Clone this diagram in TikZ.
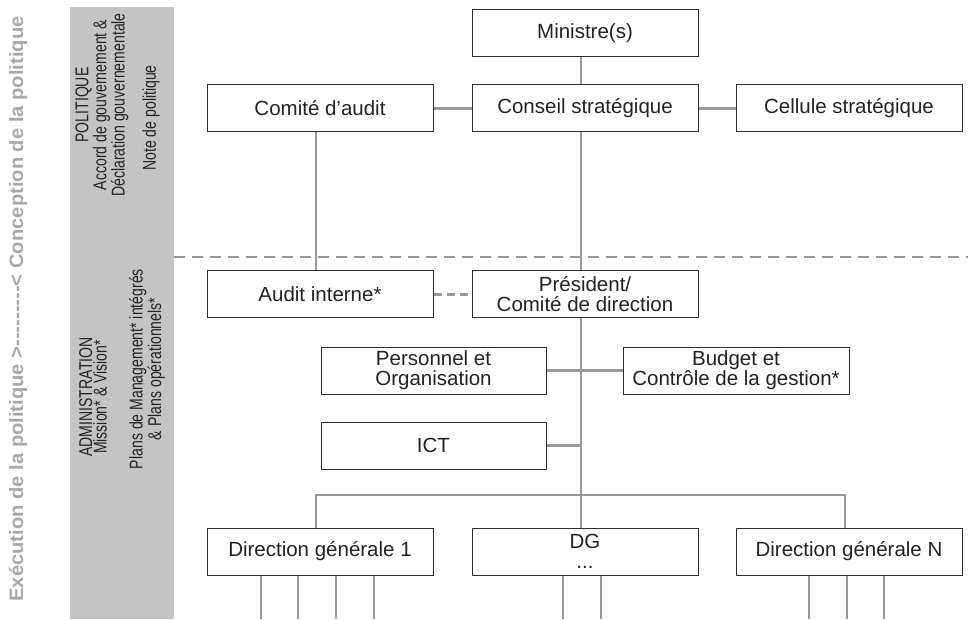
\documentclass[tikz,border=0pt]{standalone}
\usepackage{fontspec}
\setmainfont{Liberation Sans}
\newfontfamily\bandfont[FakeStretch=0.76]{Liberation Sans}
\newfontfamily\sidefont[FakeStretch=1.04]{Liberation Sans}
\definecolor{bandgray}{RGB}{196,196,196}
\definecolor{linkgray}{RGB}{153,153,153}
\definecolor{edgegray}{RGB}{45,45,45}
\definecolor{inkgray}{RGB}{35,35,35}
\definecolor{sidegray}{RGB}{168,168,168}
\begin{document}
\begin{tikzpicture}[x=1pt,y=1pt,
  orgbox/.style={draw=edgegray, line width=1pt, fill=white, text=inkgray,
    minimum width=226pt, minimum height=47pt, inner sep=0pt, align=center,
    font=\fontsize{20.5}{20}\selectfont},
  link/.style={draw=linkgray, line width=2.3pt},
  dlink/.style={link, dash pattern=on 8pt off 5pt},
  bandtext/.style={rotate=90, align=center, text=inkgray,
    font=\bandfont\fontsize{18.5}{14.5}\selectfont}
]
\useasboundingbox (0,0) rectangle (968,619);

% grey band behind the level labels
\fill[bandgray] (70,0) rectangle (174,612);

% boundary between political and administrative levels
\draw[link, dash pattern=on 11pt off 7pt] (174,362) -- (968,362);

% level labels
\node[bandtext] (pol) at (102,514) {POLITIQUE\\Accord de gouvernement \&\\Déclaration gouvernementale};
\node[bandtext] (note) at (151,501) {Note de politique};
\node[bandtext] (adm) at (93,222) {ADMINISTRATION\\Mission* \& Vision*};
\node[bandtext] (plans) at (147,250) {Plans de Management* intégrés\\\& Plans opérationnels*};

% side caption
\node[rotate=90, text=sidegray, font=\sidefont\bfseries\fontsize{19.4}{19.4}\selectfont] (side) at (18,310)
  {Exécution de la politique >---------< Conception de la politique};

% organisation boxes
\node[orgbox] (min)    at (585,586)   {Ministre(s)};
\node[orgbox] (comite) at (320,510.5) {Comité d’audit};
\node[orgbox] (cons)   at (585,510.5) {Conseil stratégique};
\node[orgbox] (cell)   at (849,510.5) {Cellule stratégique};
\node[orgbox] (audit)  at (320,324.5) {Audit interne*};
\node[orgbox] (pres)   at (585,324.5) {Président/\\Comité de direction};
\node[orgbox, minimum width=225pt] (pers) at (433.5,248.5) {Personnel et\\Organisation};
\node[orgbox] (budg)   at (736,248.5) {Budget et\\Contrôle de la gestion*};
\node[orgbox, minimum width=225pt] (ict)  at (433.5,173.5) {ICT};
\node[orgbox] (dg1)    at (320,67.5)  {Direction générale 1};
\node[orgbox] (dg)     at (585,67.5)  {DG\\...};
\node[orgbox] (dgn)    at (849,67.5)  {Direction générale N};

% bus feeding the general directorates
\coordinate (busl) at (316,124);
\coordinate (busm) at (581,124);
\coordinate (busr) at (845,124);

% connectors
\draw[link] ([xshift=-4pt]min.south) -- ([xshift=-4pt]cons.north);
\draw[link] (comite.east) -- (cons.west);
\draw[link] (cons.east) -- (cell.west);
\draw[link] ([xshift=-4pt]comite.south) -- ([xshift=-4pt]audit.north);
\draw[link] ([xshift=-4pt]cons.south) -- ([xshift=-4pt]pres.north);
\draw[dlink] (audit.east) -- (pres.west);
\draw[link] ([xshift=-4pt]pres.south) -- ([xshift=-4pt]dg.north);
\draw[link] (pers.east) -- (budg.west);
\draw[link] (ict.east) -- (ict.east -| busm);
\draw[link] ([xshift=-4pt]dg1.north) -- (busl) -- (busr) -- ([xshift=-4pt]dgn.north);

% services below each directorate
\foreach \x in {261,298,336,374} \draw[link] (dg1.south -| \x,0) -- (\x,0);
\foreach \x in {563,601} \draw[link] (dg.south -| \x,0) -- (\x,0);
\foreach \x in {809,847,884} \draw[link] (dgn.south -| \x,0) -- (\x,0);
\end{tikzpicture}
\end{document}
